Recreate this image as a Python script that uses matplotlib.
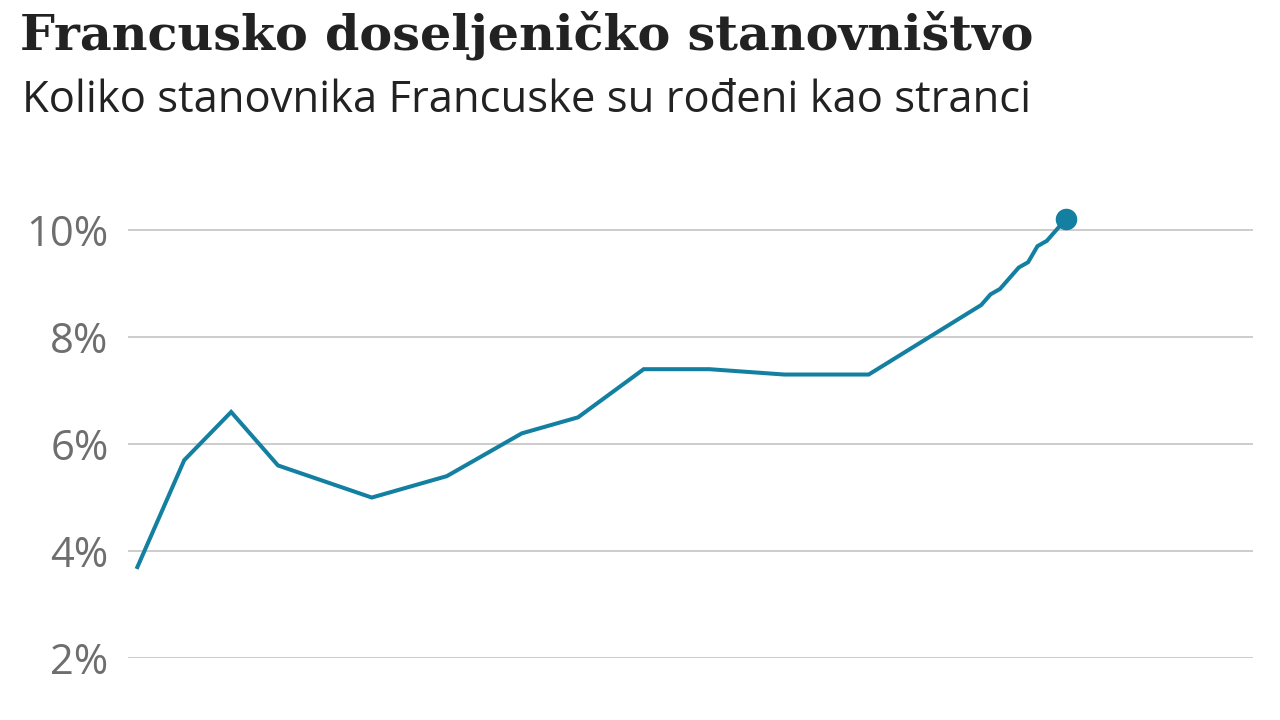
import matplotlib
matplotlib.use('Agg')
import matplotlib.pyplot as plt
import matplotlib.ticker as mtick

# share of French population born abroad (%)
years = [1921, 1926, 1931, 1936, 1946, 1954, 1962, 1968, 1975, 1982, 1990, 1999,
         2011, 2012, 2013, 2015, 2016, 2017, 2018, 2020]
share = [3.7, 5.7, 6.6, 5.6, 5.0, 5.4, 6.2, 6.5, 7.4, 7.4, 7.3, 7.3,
         8.6, 8.8, 8.9, 9.3, 9.4, 9.7, 9.8, 10.2]
yticks = [2, 4, 6, 8, 10]

title = 'Francusko doseljeničko stanovništvo'
subtitle = 'Koliko stanovnika Francuske su rođeni kao stranci'

line_col = '#1380a1'
grid_col = '#cccccc'
text_col = '#222222'
tick_col = '#6e6e6e'

fig = plt.figure(figsize=(12.8, 7.2), dpi=100)
ax = fig.add_axes([0.1, 0.0861, 0.879, 0.624])

ax.plot(years, share, color=line_col, lw=2.9, solid_joinstyle='miter', zorder=3)
ax.plot(years[-1], share[-1], 'o', color=line_col, ms=14.5, zorder=4, clip_on=False)

ax.set_xlim(1920, 2040)
ax.set_ylim(2, 10.4)
ax.set_yticks(yticks)
ax.yaxis.set_major_formatter(mtick.FormatStrFormatter('%d%%'))
ax.set_xticks([])
ax.grid(True, axis='y', color=grid_col, lw=1.4)
ax.set_axisbelow(True)
for s in ax.spines.values():
    s.set_visible(False)
ax.tick_params(axis='y', length=0, pad=14, labelsize=30, labelcolor=tick_col)
for lab in ax.get_yticklabels():
    lab.set_fontfamily('Open Sans')

fig.text(0.016, 0.951, title, fontsize=35.5, fontweight='bold', family='DejaVu Serif',
         color=text_col, va='center', ha='left')
fig.text(0.017, 0.860, subtitle, fontsize=31.4, family='Open Sans',
         color=text_col, va='center', ha='left')

fig.savefig('out.png', dpi=100)
